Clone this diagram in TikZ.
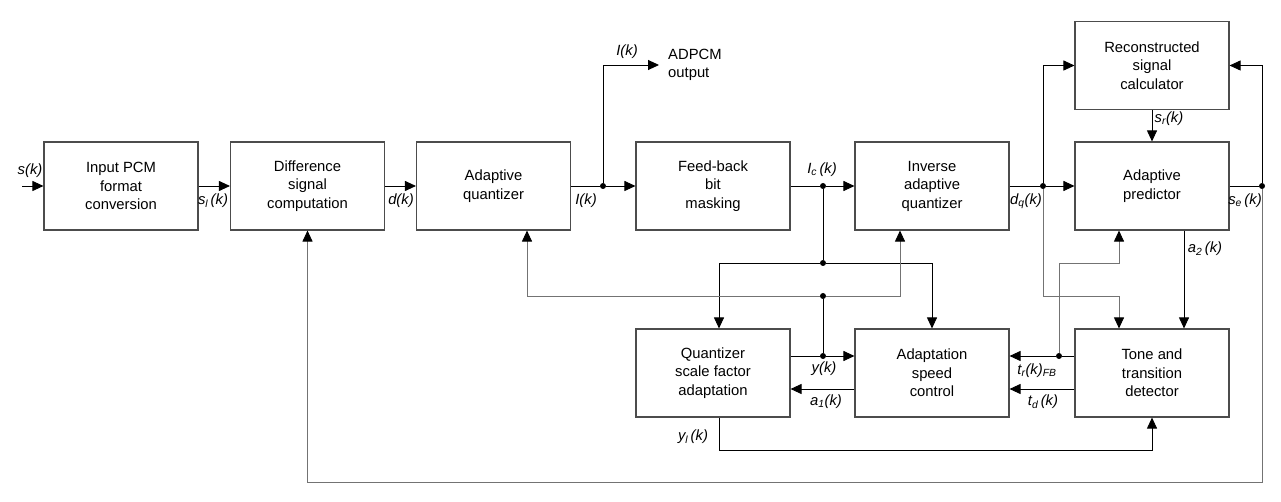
\documentclass[tikz,border=0pt]{standalone}
\usepackage{fontspec}
\setmainfont{Liberation Sans}
\usetikzlibrary{positioning,arrows.meta}

\begin{document}
\begin{tikzpicture}[x=1pt, y=-1pt,
    block/.style={rectangle, draw=black!70, line width=1.1pt, minimum width=154pt, minimum height=88pt, align=center, font=\fontsize{14.8}{18.5}\selectfont},
    signal/.style={-{Triangle[length=11pt,width=10pt,color=black]}, line width=0.9pt},
    wire/.style={line width=0.9pt},
    fb/.style={draw=black!55},
    lbl/.style={font=\fontsize{14.8}{17}\selectfont\itshape, inner sep=0pt},
    dot/.style={circle, fill, inner sep=0pt, minimum size=6pt}
]
\useasboundingbox (0,0) rectangle (1281,502);

% Blocks
\node[block] (inpcm) at (121,186) {Input PCM\\format\\conversion};
\node[block] (diff) at (307.5,186) {Difference\\signal\\computation};
\node[block] (aq) at (493.5,186) {Adaptive\\quantizer};
\node[block] (fbm) at (713,186) {Feed-back\\bit\\masking};
\node[block] (iaq) at (932,186) {Inverse\\adaptive\\quantizer};
\node[block] (ap) at (1152,186) {Adaptive\\predictor};
\node[block] (rsc) at (1152,65.5) {Reconstructed\\signal\\calculator};
\node[block] (qsfa) at (713,373) {Quantizer\\scale factor\\adaptation};
\node[block] (asc) at (932,373) {Adaptation\\speed\\control};
\node[block] (ttd) at (1152,373) {Tone and\\transition\\detector};

% Junctions
\node[dot] (j1) at (603,186) {};
\node[dot] (j2) at (823,186) {};
\node[dot] (j3) at (823,263) {};
\node[dot] (j4) at (823,296) {};
\node[dot] (j5) at (823,356) {};
\node[dot] (j6) at (1043,186) {};
\node[dot] (j7) at (1262,186) {};
\node[dot] (j8) at (1059,356) {};

\coordinate (sin) at (22,186);
\coordinate (iout) at (659,65);
\coordinate (c1) at (1262,482);
\coordinate (c2) at (1043,296);
\coordinate (c3) at (1059,263);
\coordinate (c4) at (719,450);

% Forward path
\draw[signal] (sin) -- (inpcm);
\draw[signal] (inpcm) -- (diff);
\draw[signal] (diff) -- (aq);
\draw[wire] (aq) -- (j1);
\draw[signal] (j1) -- (fbm);
\draw[signal] (j1) |- (iout);
\draw[wire] (fbm) -- (j2);
\draw[signal] (j2) -- (iaq);
\draw[wire] (iaq) -- (j6);
\draw[signal] (j6) -- (ap);
\draw[wire] (ap) -- (j7);

% Scale factor and speed control
\draw[wire] (j2) -- (j3);
\draw[signal] (j3) -| ([xshift=6pt]qsfa.north);
\draw[signal] (j3) -| (asc.north);
\draw[signal] ([yshift=17pt]qsfa.east) -- (j5) -- ([yshift=17pt]asc.west);
\draw[wire] (j5) -- (j4);
\draw[signal,fb] (j4) -| ([xshift=33.5pt]aq.south);
\draw[signal,fb] (j4) -| ([xshift=-32pt]iaq.south);
\draw[signal] ([yshift=-16pt]asc.west) -- ([yshift=-16pt]qsfa.east);
\draw[signal] ([xshift=6pt]qsfa.south) -- (c4) -| (ttd.south);

% Predictor and reconstruction
\draw[signal] (j6) |- (rsc.west);
\draw[signal,fb] (j6) -- (c2) -| ([xshift=-33pt]ttd.north);
\draw[signal] (rsc) -- (ap);
\draw[signal] ([xshift=32pt]ap.south) -- ([xshift=32pt]ttd.north);
\draw[signal] (j7) |- (rsc.east);
\draw[signal,fb] (j7) -- (c1) -| (diff.south);

% Tone and transition outputs
\draw[signal] ([yshift=17pt]ttd.west) -- (j8) -- ([yshift=17pt]asc.east);
\draw[signal,fb] (j8) -- (c3) -| ([xshift=-33pt]ap.south);
\draw[signal] ([yshift=-16pt]ttd.west) -- ([yshift=-16pt]asc.east);

% Labels
\node[lbl] (lsk) at (30,171) {s(k)};
\node[lbl] (lslk) at (213,201) {s\textsubscript{l}\,(k)};
\node[lbl] (ldk) at (401,201) {d(k)};
\node[lbl] (likb) at (586,201) {I(k)};
\node[lbl] (lika) at (627,52) {I(k)};
\node[right=9pt of iout, align=left, inner sep=0pt, font=\fontsize{14.8}{18.5}\selectfont] (adpcm) {ADPCM\\output};
\node[lbl] (lick) at (822,170) {I\textsubscript{c}\,(k)};
\node[lbl] (ldqk) at (1026,201) {d\textsubscript{q}(k)};
\node[lbl] (lsek) at (1245,201) {s\textsubscript{e}\,(k)};
\node[lbl] (lsrk) at (1169,119) {s\textsubscript{r}(k)};
\node[lbl] (la2k) at (1205,249) {a\textsubscript{2}\,(k)};
\node[lbl] (lyk) at (824,369) {y(k)};
\node[lbl] (la1k) at (826,402) {a\textsubscript{1}(k)};
\node[lbl] (ltrk) at (1037,371) {t\textsubscript{r}(k)\textsubscript{FB}};
\node[lbl] (ltdk) at (1043,402) {t\textsubscript{d}\,(k)};
\node[lbl] (lylk) at (693,437) {y\textsubscript{l}\,(k)};

\end{tikzpicture}
\end{document}
